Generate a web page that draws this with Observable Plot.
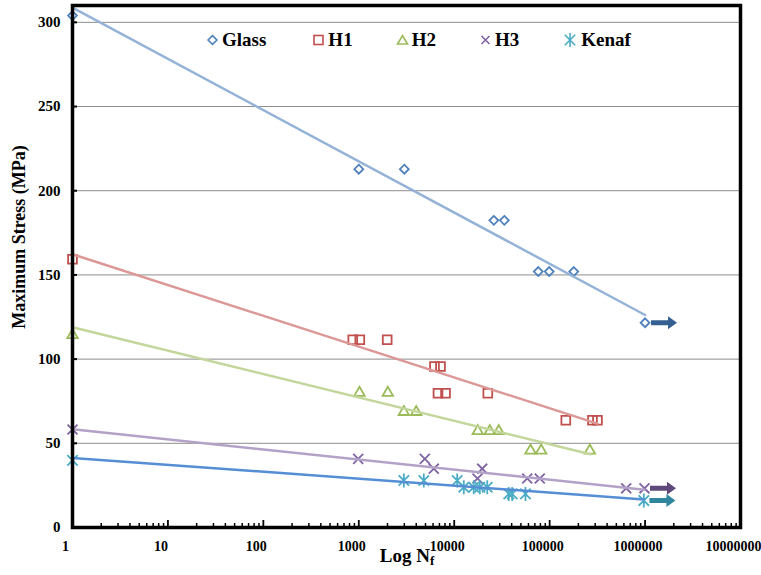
<!DOCTYPE html>
<html><head><meta charset="utf-8">
<script src="https://cdn.jsdelivr.net/npm/d3@7"></script>
<script src="https://cdn.jsdelivr.net/npm/@observablehq/plot@0.6"></script>
<style>
body{margin:0;background:#fff;}
#wrap{position:relative;width:761px;height:575px;font-family:"Liberation Serif","Times New Roman",serif;color:#000;}
#legend{position:absolute;left:207px;top:29px;display:flex;gap:44px;font-weight:bold;font-size:19px;align-items:center;line-height:22px;}
.item{display:flex;align-items:center;}
.item.first{margin-right:3px;}
.item svg{margin-right:4px;overflow:visible}
#ytitle{position:absolute;left:19px;top:237px;transform:translate(-50%,-50%) rotate(-90deg);white-space:nowrap;font-weight:bold;font-size:18px;}
#xtitle{position:absolute;left:407px;top:557px;transform:translate(-50%,-50%);white-space:nowrap;font-weight:bold;font-size:19px;}
#xtitle sub{font-size:13px;vertical-align:-3px;}
</style></head>
<body>
<div id="wrap">
<div id="chart"></div>
<div id="legend"></div>
<div id="ytitle">Maximum Stress (MPa)</div>
<div id="xtitle">Log N<sub>f</sub></div>
</div>
<script>
// ---- data ----
const seriesNames = ["Glass", "H1", "H2", "H3", "Kenaf"];

const glassN = [1, 1000, 3000, 26000, 33500, 76000, 99000, 179000, 1000000];
const glassS = [304, 212.8, 212.8, 182.4, 182.4, 152, 152, 152, 121.6];

const h1N = [1, 865, 1025, 1985, 6210, 7180, 6760, 8110, 22500, 147700, 281000, 317000];
const h1S = [159.3, 111.5, 111.5, 111.5, 95.6, 95.6, 79.7, 79.7, 79.7, 63.7, 63.7, 63.7];

const h2N = [1, 1017, 2014, 2965, 3995, 17660, 23600, 29300, 63000, 81500, 263600];
const h2S = [114.3, 80, 80, 68.6, 68.6, 57.2, 57.2, 57.2, 45.7, 45.7, 45.7];

const h3N = [1, 986, 4920, 6110, 19640, 17530, 58200, 78800, 634000, 986000];
const h3S = [58.2, 40.7, 40.7, 34.9, 34.9, 29.1, 29.1, 29.1, 23.3, 23.3];

const kenafN = [1, 2965, 4800, 10750, 12600, 16000, 18550, 22200, 37300, 40500, 55800, 970000];
const kenafS = [39.9, 27.9, 27.9, 27.9, 23.9, 23.9, 23.9, 23.9, 19.95, 19.95, 19.95, 16];

// trend line endpoints (N, S)
const trendStartN = [1, 1, 1, 1, 1];
const trendStartS = [308.7, 162.3, 118.9, 58.3, 41.3];
const trendEndN = [1000000, 315000, 268000, 986000, 970000];
const trendEndS = [126.2, 61.7, 43.5, 22.4, 16.7];

// run-out arrows
const arrowSeries = ["Glass", "H3", "Kenaf"];
const arrowN = [1580000, 1540000, 1520000];
const arrowS = [121.6, 23.3, 16];

// axes
const xTicks = [1, 10, 100, 1000, 10000, 100000, 1000000, 10000000];
const xTickLabels = ["1", "10", "100", "1000", "10000", "100000", "1000000", "10000000"];
const xMinorMultipliers = [2, 3, 4, 5, 6, 7, 8, 9];
const yTicks = [0, 50, 100, 150, 200, 250, 300];
const yTickLabels = ["0", "50", "100", "150", "200", "250", "300"];

// ---- styles ----
const markerColor = {Glass: "#4f81bd", H1: "#c0504d", H2: "#9bbb59", H3: "#8064a2", Kenaf: "#4bacc6"};
const trendColor = {Glass: "#95b3d7", H1: "#dc9896", H2: "#c3d69b", H3: "#b3a2c7", Kenaf: "#558ed5"};
const arrowColor = {Glass: "#376092", H3: "#5f497a", Kenaf: "#31859c"};

const excelStar = {draw(ctx) {
  const r = 7, d = 5.2;
  ctx.moveTo(0, -r); ctx.lineTo(0, r);
  ctx.moveTo(-d, -d); ctx.lineTo(d, d);
  ctx.moveTo(-d, d); ctx.lineTo(d, -d);
}};
const blockArrow = {draw(ctx) {
  ctx.moveTo(-13, -2.5); ctx.lineTo(4, -2.5); ctx.lineTo(4, -6.5); ctx.lineTo(13, 0);
  ctx.lineTo(4, 6.5); ctx.lineTo(4, 2.5); ctx.lineTo(-13, 2.5); ctx.closePath();
}};
const symbolOf = {Glass: "diamond2", H1: "square2", H2: "triangle2", H3: "times", Kenaf: excelStar};
const rOf = {Glass: 4, H1: 5.6, H2: 5, H3: 4.6, Kenaf: 5};

const pts = (N, S) => N.map((n, i) => ({n, s: S[i]}));
const seriesData = {
  Glass: pts(glassN, glassS), H1: pts(h1N, h1S), H2: pts(h2N, h2S), H3: pts(h3N, h3S), Kenaf: pts(kenafN, kenafS)
};
const trends = seriesNames.map((name, i) => [
  {name, n: trendStartN[i], s: trendStartS[i]},
  {name, n: trendEndN[i], s: trendEndS[i]}
]);
const arrows = arrowSeries.map((name, i) => ({name, n: arrowN[i], s: arrowS[i]}));
const xMinor = xTicks.slice(0, -1).flatMap(d => xMinorMultipliers.map(k => k * d));

const marks = [
  Plot.ruleY(yTicks.filter(d => d > 0), {stroke: "#8c8c8c", strokeWidth: 1}),
  // minor & major x ticks (inside)
  Plot.ruleX(xMinor, {x: d => d, y1: 0, y2: 0, insetBottom: 4, stroke: "#000", strokeWidth: 1.5}),
  Plot.ruleX(xTicks, {x: d => d, y1: 0, y2: 0, insetBottom: 7, stroke: "#000", strokeWidth: 1.8}),
  // y ticks (inside)
  Plot.ruleY(yTicks, {y: d => d, x1: 1, x2: 1, insetRight: -5, stroke: "#000", strokeWidth: 2}),
  Plot.axisX(xTicks, {tickSize: 0, tickPadding: 14, dx: -7, tickFormat: (d) => xTickLabels[xTicks.indexOf(d)], fontSize: 14, fontWeight: "bold", label: null}),
  Plot.axisY(yTicks, {tickSize: 0, tickPadding: 12, tickFormat: d => yTickLabels[yTicks.indexOf(d)], fontSize: 15, fontWeight: "bold", label: null}),
];
for (const name of seriesNames) {
  marks.push(Plot.dot(seriesData[name], {x: "n", y: "s", symbol: symbolOf[name], r: rOf[name], stroke: markerColor[name], strokeWidth: 1.8, fill: "none"}));
}
trends.forEach((t, i) => {
  marks.push(Plot.line(t, {x: "n", y: "s", stroke: trendColor[seriesNames[i]], strokeWidth: 2.5}));
});
marks.push(Plot.dot(arrows, {x: "n", y: "s", symbol: blockArrow, fill: d => arrowColor[d.name], stroke: "none"}));
marks.push(Plot.frame({stroke: "#000", strokeWidth: 3.5}));

const chart = Plot.plot({
  width: 761, height: 575,
  marginLeft: 72, marginRight: 21, marginTop: 5, marginBottom: 48,
  x: {type: "log", domain: [1, 1e7], label: null},
  y: {domain: [0, 310], label: null},
  style: {fontFamily: "'Liberation Serif','Times New Roman',serif", color: "#000", background: "transparent", overflow: "visible"},
  marks
});
document.getElementById("chart").appendChild(chart);

// legend
const legend = document.getElementById("legend");
const legendShapes = {
  Glass: '<path d="M0,-4.4L4.4,0L0,4.4L-4.4,0Z" fill="none"/>',
  H1: '<rect x="-4.5" y="-4.5" width="9" height="9" fill="none"/>',
  H2: '<path d="M0,-4.5L5,4L-5,4Z" fill="none"/>',
  H3: '<path d="M-4,-4L4,4M-4,4L4,-4" fill="none"/>',
  Kenaf: '<path d="M0,-7L0,7M-5.2,-5.2L5.2,5.2M-5.2,5.2L5.2,-5.2" fill="none"/>'
};
seriesNames.forEach((name, i) => {
  const item = document.createElement("div");
  item.className = i === 0 ? "item first" : "item";
  const w = name === "Kenaf" ? 14 : 11;
  item.innerHTML = `<svg width="${w}" height="14" viewBox="${-w/2} -7 ${w} 14"><g stroke="${markerColor[name]}" stroke-width="1.6">${legendShapes[name]}</g></svg><span>${name}</span>`;
  legend.appendChild(item);
});
</script>
</body></html>
